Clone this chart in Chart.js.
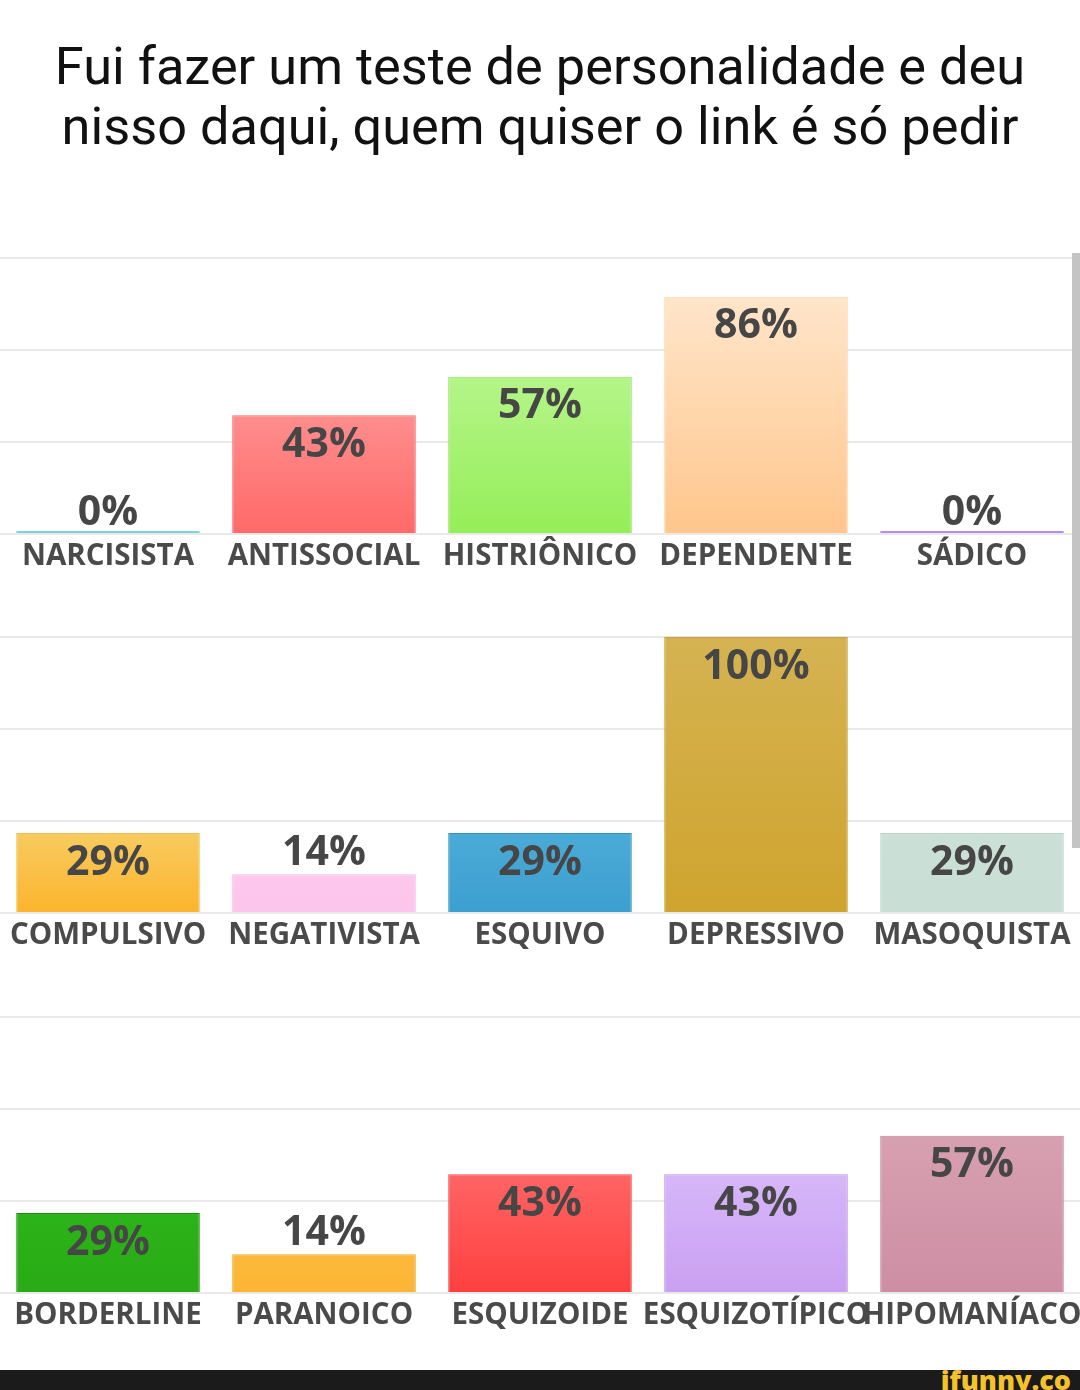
<!DOCTYPE html>
<html>
<head>
<meta charset="utf-8">
<script src="https://cdn.jsdelivr.net/npm/chart.js@4"></script>
<style>
html,body{margin:0;padding:0;background:#fff;}
body{width:1080px;height:1390px;position:relative;overflow:hidden;}
#title{position:absolute;left:0;top:36px;width:1080px;text-align:center;font-family:Roboto,sans-serif;font-size:52.3px;line-height:60px;color:#111;}
.row{position:absolute;left:0;width:1080px;height:326px;}
#scroll{position:absolute;left:1072px;top:253px;width:8px;height:595px;background:#c4c4c4;}
#footer{position:absolute;left:0;top:1370px;width:1080px;height:20px;background:#1b1b1b;overflow:hidden;}
#logo{position:absolute;right:9px;top:-8px;font-family:"Open Sans",sans-serif;font-weight:800;font-size:27px;line-height:36px;color:#f5c22b;}
</style>
</head>
<body>
<div id="title">Fui fazer um teste de personalidade e deu<br>nisso daqui, quem quiser o link é só pedir</div>
<div class="row" style="top:248px"><canvas id="c1" width="1080" height="326"></canvas></div>
<div class="row" style="top:627px"><canvas id="c2" width="1080" height="326"></canvas></div>
<div class="row" style="top:1007px"><canvas id="c3" width="1080" height="326"></canvas></div>
<div id="scroll"></div>
<div id="footer"><div id="logo">ifunny.co</div></div>
<script>
// ---- data ----
const gridTicks = [0, 33.33, 66.67, 100];

const row1Labels = ['NARCISISTA', 'ANTISSOCIAL', 'HISTRIÔNICO', 'DEPENDENTE', 'SÁDICO'];
const row1Values = [0, 43, 57, 86, 0];

const row2Labels = ['COMPULSIVO', 'NEGATIVISTA', 'ESQUIVO', 'DEPRESSIVO', 'MASOQUISTA'];
const row2Values = [29, 14, 29, 100, 29];

const row3Labels = ['BORDERLINE', 'PARANOICO', 'ESQUIZOIDE', 'ESQUIZOTÍPICO', 'HIPOMANÍACO'];
const row3Values = [29, 14, 43, 43, 57];

// colours: [top, bottom, border]
const row1Colors = [
  ['#7fd2d8', '#7fd2d8', '#7fd2d8'],
  ['#ff8d8d', '#ff6969', '#f26a6a'],
  ['#b4f589', '#95ee58', '#8fe25a'],
  ['#ffe5ca', '#ffc68c', '#ffd2a0'],
  ['#b48cf0', '#b48cf0', '#b48cf0']
];
const row2Colors = [
  ['#f7cb60', '#fcb42c', '#f0c050'],
  ['#fcc8ec', '#fcc5eb', '#f3b8e0'],
  ['#4babd7', '#3c9fd0', '#3390c0'],
  ['#d5b352', '#cfa42e', '#c8a030'],
  ['#cbe1d8', '#c8ded5', '#bcd4ca']
];
const row3Colors = [
  ['#2db31a', '#28ab14', '#1e8c10'],
  ['#fcba3a', '#fcb534', '#f0a428'],
  ['#ff6464', '#ff3f3f', '#f04848'],
  ['#d6b6f8', '#caa0f2', '#bb92ea'],
  ['#d7a0b1', '#cd8ea3', '#c08498']
];

// ---- helpers ----
function barFill(ctx, colors) {
  const c = colors[ctx.dataIndex];
  const chart = ctx.chart;
  if (!chart.chartArea || !chart.scales.y) return c[1];
  const ys = chart.scales.y;
  const top = ys.getPixelForValue(ctx.raw);
  const base = ys.getPixelForValue(0);
  if (base - top < 4) return c[1];
  const g = chart.ctx.createLinearGradient(0, top, 0, base);
  g.addColorStop(0, c[0]);
  g.addColorStop(1, c[1]);
  return g;
}

const valueLabels = {
  id: 'valueLabels',
  afterDatasetsDraw(chart) {
    const ctx = chart.ctx;
    const ys = chart.scales.y;
    const meta = chart.getDatasetMeta(0);
    const data = chart.data.datasets[0].data;
    ctx.save();
    ctx.font = 'bold 41px "Open Sans", sans-serif';
    ctx.fillStyle = '#464646';
    ctx.textAlign = 'center';
    ctx.textBaseline = 'middle';
    meta.data.forEach((bar, i) => {
      const v = data[i];
      const top = ys.getPixelForValue(v);
      const base = ys.getPixelForValue(0);
      const y = (base - top > 60) ? top + 30 : top - 21;
      ctx.fillText(v + '%', bar.x, y);
    });
    ctx.restore();
  }
};

function makeChart(id, labels, values, colors) {
  new Chart(document.getElementById(id), {
    type: 'bar',
    data: {
      labels: labels,
      datasets: [{
        data: values,
        backgroundColor: ctx => barFill(ctx, colors),
        borderColor: colors.map(c => c[2]),
        borderWidth: 1,
        minBarLength: 3,
        barPercentage: 0.85,
        categoryPercentage: 1
      }]
    },
    options: {
      responsive: false,
      animation: false,
      events: [],
      layout: { padding: { top: 10, left: 0, right: 0, bottom: 0 } },
      plugins: { legend: { display: false }, tooltip: { enabled: false } },
      scales: {
        x: {
          grid: { display: false, drawTicks: false },
          border: { display: false },
          ticks: {
            autoSkip: false, maxRotation: 0, minRotation: 0, padding: 5,
            color: '#4a4a4a',
            font: { family: '"Open Sans", sans-serif', weight: 'bold', size: 29.5 }
          },
          afterFit: s => { s.height = 40; s.paddingLeft = 0; s.paddingRight = 0; }
        },
        y: {
          min: 0, max: 100,
          afterBuildTicks: s => { s.ticks = gridTicks.map(v => ({ value: v })); },
          ticks: { display: false },
          grid: { color: '#e9e9e9', lineWidth: 2, drawTicks: false },
          border: { display: false },
          afterFit: s => { s.width = 0; s.paddingTop = 0; s.paddingBottom = 0; }
        }
      }
    },
    plugins: [valueLabels]
  });
}

makeChart('c1', row1Labels, row1Values, row1Colors);
makeChart('c2', row2Labels, row2Values, row2Colors);
makeChart('c3', row3Labels, row3Values, row3Colors);
</script>
</body>
</html>
